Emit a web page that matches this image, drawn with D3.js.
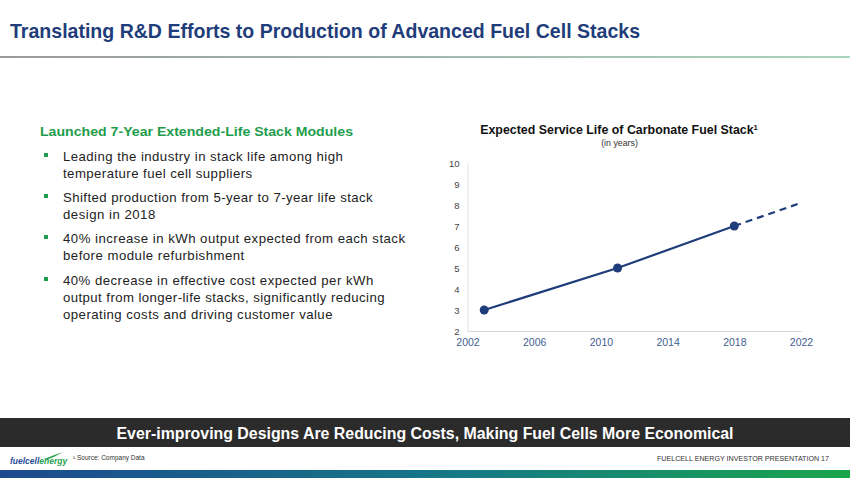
<!DOCTYPE html>
<html>
<head>
<meta charset="utf-8">
<script src="https://cdn.jsdelivr.net/npm/d3@7"></script>
<style>
  html, body { margin: 0; padding: 0; background: #fff; }
  svg { display: block; font-family: 'Liberation Sans', Arial, sans-serif; }
</style>
</head>
<body>
<svg id="slide" width="850" height="478"></svg>
<script>
// Chart values
const years = [2003, 2011, 2018];
const life = [3, 5, 7];
const projYears = [2018, 2022];
const projLife = [7, 8.1];
const xTicks = [2002, 2006, 2010, 2014, 2018, 2022];
const yTicks = [2, 3, 4, 5, 6, 7, 8, 9, 10];

const bullets = [
  ['Leading the industry in stack life among high', 'temperature fuel cell suppliers'],
  ['Shifted production from 5-year to 7-year life stack', 'design in 2018'],
  ['40% increase in kWh output expected from each stack', 'before module refurbishment'],
  ['40% decrease in effective cost expected per kWh', 'output from longer-life stacks, significantly reducing', 'operating costs and driving customer value']
];

const navy = '#1f3d7a';
const green = '#1e9e4c';

const svg = d3.select('#slide');
const defs = svg.append('defs');

const rule = defs.append('linearGradient').attr('id', 'rule');
rule.append('stop').attr('offset', '0%').attr('stop-color', '#9a9a9a');
rule.append('stop').attr('offset', '100%').attr('stop-color', '#a9d4bd');

const bar = defs.append('linearGradient').attr('id', 'bar');
bar.append('stop').attr('offset', '0%').attr('stop-color', '#1d4a8e');
bar.append('stop').attr('offset', '55%').attr('stop-color', '#157a86');
bar.append('stop').attr('offset', '100%').attr('stop-color', '#1aa54b');

// Header
svg.append('text')
  .attr('x', 10).attr('y', 38)
  .attr('font-size', 21).attr('font-weight', 'bold')
  .attr('fill', navy)
  .attr('textLength', 630).attr('lengthAdjust', 'spacingAndGlyphs')
  .text('Translating R&D Efforts to Production of Advanced Fuel Cell Stacks');

svg.append('rect')
  .attr('x', 0).attr('y', 56).attr('width', 850).attr('height', 2)
  .attr('fill', 'url(#rule)');

// Left text block
svg.append('text')
  .attr('x', 40).attr('y', 136)
  .attr('font-size', 13).attr('font-weight', 'bold')
  .attr('fill', green)
  .attr('textLength', 313).attr('lengthAdjust', 'spacingAndGlyphs')
  .text('Launched 7-Year Extended-Life Stack Modules');

const bulletTops = [161, 202, 243, 285];
bullets.forEach((lines, i) => {
  svg.append('rect')
    .attr('x', 44).attr('y', bulletTops[i] - 8)
    .attr('width', 4).attr('height', 4)
    .attr('fill', green);
  lines.forEach((line, j) => {
    const t = svg.append('text')
      .attr('x', 63).attr('y', bulletTops[i] + j * 17)
      .attr('font-size', 13.2)
      .attr('fill', '#222')
      .text(line);
    // the slide spreads its words a little wider than the plain font
    const w = t.node().getComputedTextLength();
    t.attr('textLength', w * 1.075).attr('lengthAdjust', 'spacing');
  });
});

// Chart
const x = d3.scaleLinear().domain([2002, 2022]).range([467.5, 801]);
const y = d3.scaleLinear().domain([2, 10]).range([331, 163]);

const chart = svg.append('g').attr('class', 'chart');

chart.append('text')
  .attr('x', 619).attr('y', 134)
  .attr('text-anchor', 'middle')
  .attr('font-size', 12.4).attr('font-weight', 'bold')
  .attr('fill', '#111')
  .text('Expected Service Life of Carbonate Fuel Stack')
  .append('tspan')
  .attr('font-size', 7.5).attr('dy', -4)
  .text('1');

chart.append('text')
  .attr('x', 619.5).attr('y', 146)
  .attr('text-anchor', 'middle')
  .attr('font-size', 8.8)
  .attr('fill', '#333')
  .text('(in years)');

const xAxis = chart.append('g')
  .attr('transform', `translate(0,${y(2)})`)
  .call(d3.axisBottom(x).tickValues(xTicks).tickFormat(d3.format('d')).tickSize(0).tickPadding(8));
xAxis.select('.domain').attr('stroke', '#d6d6d6');
xAxis.selectAll('text').attr('font-size', 10.5).attr('fill', '#3f5e8f').attr('font-family', 'Liberation Sans, Arial, sans-serif');

const yAxis = chart.append('g')
  .attr('transform', `translate(${x(2002)},0)`)
  .call(d3.axisLeft(y).tickValues(yTicks).tickSize(0).tickPadding(8));
yAxis.select('.domain').attr('stroke', '#e3e3e3');
yAxis.selectAll('text').attr('font-size', 9.5).attr('fill', '#444').attr('font-family', 'Liberation Sans, Arial, sans-serif');

const line = d3.line().x(d => x(d[0])).y(d => y(d[1]));

chart.append('path')
  .datum(d3.zip(projYears, projLife))
  .attr('d', line)
  .attr('fill', 'none')
  .attr('stroke', navy).attr('stroke-width', 2.2)
  .attr('stroke-dasharray', '7,5');

chart.append('path')
  .datum(d3.zip(years, life))
  .attr('d', line)
  .attr('fill', 'none')
  .attr('stroke', navy).attr('stroke-width', 2.2);

chart.selectAll('circle')
  .data(d3.zip(years, life))
  .join('circle')
  .attr('cx', d => x(d[0])).attr('cy', d => y(d[1]))
  .attr('r', 4.5)
  .attr('fill', navy);

// Bottom banner
svg.append('rect')
  .attr('x', 0).attr('y', 418).attr('width', 850).attr('height', 29)
  .attr('fill', '#2b2b2b');

svg.append('text')
  .attr('x', 425).attr('y', 439)
  .attr('text-anchor', 'middle')
  .attr('font-size', 16).attr('font-weight', 'bold')
  .attr('fill', '#fff')
  .attr('textLength', 617).attr('lengthAdjust', 'spacingAndGlyphs')
  .text('Ever-improving Designs Are Reducing Costs, Making Fuel Cells More Economical');

// Footer
const logo = svg.append('text')
  .attr('x', 10).attr('y', 464)
  .attr('font-size', 8.5).attr('font-style', 'italic').attr('font-weight', 'bold');
logo.append('tspan').attr('fill', '#2a4e9a').text('fuelcell');
logo.append('tspan').attr('fill', '#2aa150').text('energy');

svg.append('path')
  .attr('d', 'M44,459 Q54,455 63,452 Q55,457 46,460 Z')
  .attr('fill', '#2aa150');

svg.append('text')
  .attr('x', 73).attr('y', 460)
  .attr('font-size', 6.5)
  .attr('fill', '#333')
  .text('¹ Source: Company Data');

svg.append('text')
  .attr('x', 829).attr('y', 461)
  .attr('text-anchor', 'end')
  .attr('font-size', 6.5)
  .attr('fill', '#333')
  .attr('textLength', 172).attr('lengthAdjust', 'spacingAndGlyphs')
  .text('FUELCELL ENERGY INVESTOR PRESENTATION 17');

svg.append('rect')
  .attr('x', 0).attr('y', 470).attr('width', 850).attr('height', 8)
  .attr('fill', 'url(#bar)');
</script>
</body>
</html>
